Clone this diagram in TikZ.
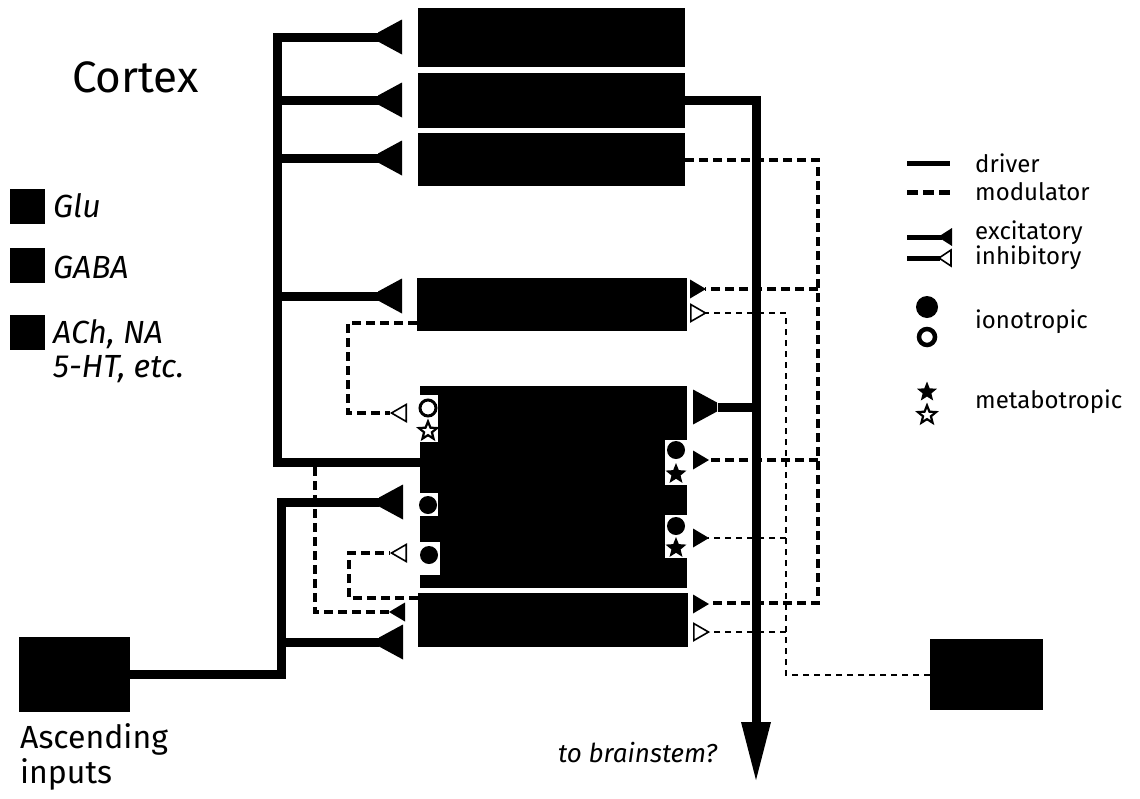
\documentclass[tikz,border=0pt]{standalone}
\usepackage{fontspec}
\setmainfont{Fira Sans}
\usepackage{tikz}
\usetikzlibrary{calc, shapes.geometric}

\tikzset{
  cell/.style={fill=black, inner sep=0pt, anchor=north west},
  drive/.style={line width=9pt},
  modline/.style={line width=3.8pt, dash pattern=on 9pt off 5pt},
  bsline/.style={line width=2pt, dash pattern=on 6pt off 5pt},
  txt/.style={anchor=base west, inner sep=0pt},
  drvsyn/.pic={\fill (0,-17.5) -- (0,17.5) -- (-24,4.5) -- (-24,-4.5) -- cycle;},
  excsyn/.pic={\fill (0,-9.5) -- (0,9.5) -- (-16,0) -- cycle;},
  inhsyn/.pic={\filldraw[fill=white, line width=1.6pt] (-0.8,-8.5) -- (-0.8,8.5) -- (-15.5,0) -- cycle;},
  ionf/.style={circle, fill=black, minimum size=18pt, inner sep=0pt},
  iono/.style={circle, draw=black, line width=3pt, minimum size=16pt, inner sep=0pt},
  metf/.style={star, star points=5, star point ratio=2.3, fill=black, minimum size=22pt, inner sep=0pt},
  meto/.style={star, star points=5, star point ratio=2.3, draw=black, fill=white, line width=2.2pt, minimum size=19pt, inner sep=0pt},
}

\begin{document}
\begin{tikzpicture}[x=1pt, y=-1pt, line join=miter]
    \useasboundingbox (0,0) rectangle (1140,798);

    % 1. Cac hop te bao
    \node[cell, minimum width=267pt, minimum height=59pt] (l5a) at (418,8) {};
    \node[cell, minimum width=267pt, minimum height=55pt] (l5b) at (418,73) {};
    \node[cell, minimum width=267pt, minimum height=53pt] (l6) at (418,133) {};
    \node[cell, minimum width=270pt, minimum height=53pt] (l4) at (417,278) {};
    \node[cell, minimum width=267pt, minimum height=202pt] (relay) at (420,386) {};
    \node[cell, minimum width=270pt, minimum height=54pt] (trn) at (418,593) {};
    \node[cell, minimum width=111pt, minimum height=75pt] (asc) at (19,637) {};
    \node[cell, minimum width=113pt, minimum height=71pt] (bstem) at (930,639) {};

    % cac khe trang tren te bao relay
    \fill[white] (420,395) rectangle (438,442);
    \fill[white] (420,493) rectangle (438,516);
    \fill[white] (420,542) rectangle (440,575);
    \fill[white] (665,440) rectangle (687,485);
    \fill[white] (665,515) rectangle (687,558);

    % 2. Duong driver (net lien)
    \draw[drive] (379,37) -- (277,37) -- (277,462) -- (relay.west |- 0,462);
    \foreach \y in {100, 158, 296} \draw[drive] (277,\y) -- (379,\y);
    \draw[drive] (l5b.east) -| (756,724);
    \fill (741,722) -- (771,722) -- (756,780) -- cycle;
    \draw[drive] (718,407) -- (756,407);
    \draw[drive] (asc.east) -| (281,502) -- (379,502);
    \draw[drive] (281,642) -- (379,642);

    \foreach \y in {37, 100, 158, 296} \pic at (402,\y) {drvsyn};
    \foreach \y in {502, 642} \pic at (403,\y) {drvsyn};
    \pic[xscale=-1] at (693,407) {drvsyn};

    % 3. Duong modulator (net dut)
    \draw[modline] (l6.east) -| (818,603) -- (708,603);
    \draw[modline] (818,289) -- (705,289);
    \draw[modline] (818,460) -- (708,460);
    \draw[modline] (l4.west |- 0,323) -| (348,413) -- (390,413);
    \draw[modline] (trn.west |- 0,598) -| (349,553) -- (390,553);
    \draw[modline] (315,467) |- (391,612);

    \draw[bsline] (bstem.west) -| (786,313) -- (705,313);
    \draw[bsline] (786,538) -- (708,538);
    \draw[bsline] (786,632) -- (708,632);

    \pic at (405,612) {excsyn};
    \foreach \y in {413, 553} \pic at (407,\y) {inhsyn};
    \pic[xscale=-1] at (690,289) {excsyn};
    \foreach \y in {460, 538, 604} \pic[xscale=-1] at (693,\y) {excsyn};
    \pic[xscale=-1] at (690,313) {inhsyn};
    \pic[xscale=-1] at (693,632) {inhsyn};

    % 4. Thu the (ionotropic / metabotropic)
    \node[iono] (r1) at (428,408) {};
    \node[meto] (r2) at (428,431) {};
    \node[ionf] (r3) at (428,505) {};
    \node[ionf] (r4) at (429,555) {};
    \node[ionf] (r5) at (676,450) {};
    \node[metf] (r6) at (676,474) {};
    \node[ionf] (r7) at (676,526) {};
    \node[metf] (r8) at (676,548) {};

    % 5. Chu thich ben trai
    \node[txt, font=\fontsize{44}{52}\selectfont] (cortex) at (72,92) {Cortex};
    \node[cell, minimum size=35pt] (sq1) at (10,189) {};
    \node[cell, minimum size=35pt] (sq2) at (10,248) {};
    \node[cell, minimum size=35pt] (sq3) at (10,315) {};
    \node[txt, font=\fontsize{32}{38}\selectfont\itshape] (glu) at (53,217) {Glu};
    \node[txt, font=\fontsize{32}{38}\selectfont\itshape] (gaba) at (53,278) {GABA};
    \node[txt, font=\fontsize{32}{38}\selectfont\itshape] (ach) at (53,343) {ACh, NA};
    \node[txt, font=\fontsize{32}{38}\selectfont\itshape] (sht) at (53,377) {5-HT, etc.};
    \node[txt, font=\fontsize{32}{36}\selectfont] (asc1) at (20,748) {Ascending};
    \node[txt, font=\fontsize{32}{36}\selectfont] (asc2) at (20,783) {inputs};
    \node[txt, font=\fontsize{26}{30}\selectfont\itshape] (tobs) at (558,762) {to brainstem?};

    % 6. Chu thich ben phai
    \draw[line width=5pt] (907,163) -- (950,163);
    \draw[line width=5pt, dash pattern=on 11pt off 5pt] (907,192) -- (950,192);
    \draw[line width=5pt] (907,237) -- (942,237);
    \fill (952,228) -- (952,246) -- (938,237) -- cycle;
    \draw[line width=5pt] (907,258) -- (940,258);
    \filldraw[fill=white, line width=1.6pt] (951,250) -- (951,266) -- (939,258) -- cycle;
    \node[ionf, minimum size=22pt] (kf) at (927,307) {};
    \node[iono, minimum size=16pt, line width=4.5pt] (ko) at (927,337) {};
    \node[metf, minimum size=21pt] (kmf) at (927,392) {};
    \node[meto, minimum size=19pt] (kmo) at (927,415) {};
    \foreach \t/\y in {driver/172, modulator/200, excitatory/239, inhibitory/264, ionotropic/328, metabotropic/408}
        \node[txt, font=\fontsize{24}{28}\selectfont] at (975,\y) {\t};

\end{tikzpicture}
\end{document}
